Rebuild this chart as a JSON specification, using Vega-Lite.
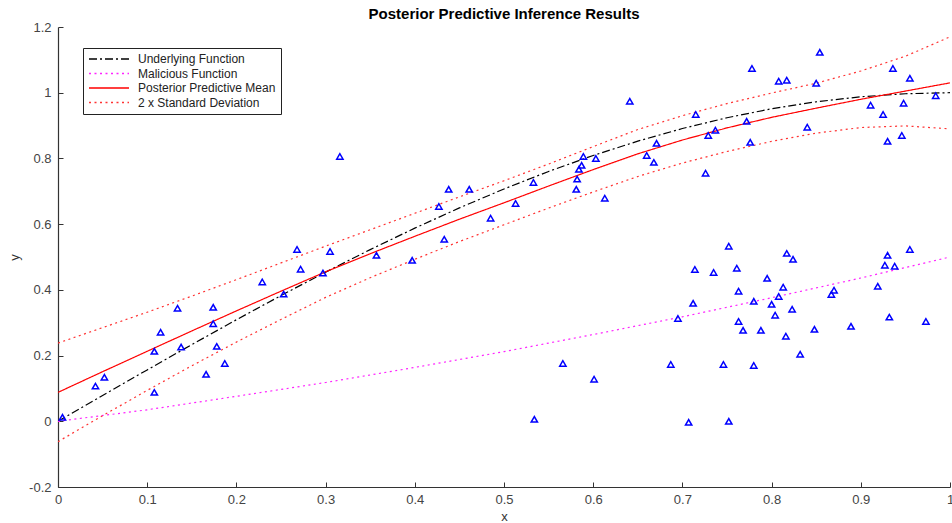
{
  "$schema": "https://vega.github.io/schema/vega-lite/v6.json",
  "width": 892,
  "height": 460,
  "autosize": {"type": "none"},
  "padding": {"left": 58, "top": 27, "right": 2, "bottom": 36},
  "background": "#ffffff",
  "title": {"text": "Posterior Predictive Inference Results", "fontSize": 15, "font": "Liberation Sans", "fontWeight": "bold", "color": "#000", "offset": -1},
  "config": {
    "view": {"stroke": null},
    "font": "Liberation Sans",
    "axis": {"grid": false, "domainColor": "#333", "tickColor": "#333", "labelColor": "#444", "labelFontSize": 13, "titleFontSize": 13, "titleFontWeight": "normal", "titleColor": "#333", "labelFont": "Liberation Sans", "titleFont": "Liberation Sans", "tickSize": -5, "domainWidth": 1.2, "tickWidth": 1}
  },
  "datasets": {
    "curves": [
      {"series": "Underlying Function", "part": "u", "x": 0.0, "y": 0.0},
      {"series": "Underlying Function", "part": "u", "x": 0.05, "y": 0.0785},
      {"series": "Underlying Function", "part": "u", "x": 0.1, "y": 0.1564},
      {"series": "Underlying Function", "part": "u", "x": 0.15, "y": 0.2334},
      {"series": "Underlying Function", "part": "u", "x": 0.2, "y": 0.309},
      {"series": "Underlying Function", "part": "u", "x": 0.25, "y": 0.3827},
      {"series": "Underlying Function", "part": "u", "x": 0.3, "y": 0.454},
      {"series": "Underlying Function", "part": "u", "x": 0.35, "y": 0.5225},
      {"series": "Underlying Function", "part": "u", "x": 0.4, "y": 0.5878},
      {"series": "Underlying Function", "part": "u", "x": 0.45, "y": 0.6494},
      {"series": "Underlying Function", "part": "u", "x": 0.5, "y": 0.7071},
      {"series": "Underlying Function", "part": "u", "x": 0.55, "y": 0.7604},
      {"series": "Underlying Function", "part": "u", "x": 0.6, "y": 0.809},
      {"series": "Underlying Function", "part": "u", "x": 0.65, "y": 0.8526},
      {"series": "Underlying Function", "part": "u", "x": 0.7, "y": 0.891},
      {"series": "Underlying Function", "part": "u", "x": 0.75, "y": 0.9239},
      {"series": "Underlying Function", "part": "u", "x": 0.8, "y": 0.9511},
      {"series": "Underlying Function", "part": "u", "x": 0.85, "y": 0.9724},
      {"series": "Underlying Function", "part": "u", "x": 0.9, "y": 0.9877},
      {"series": "Underlying Function", "part": "u", "x": 0.95, "y": 0.9969},
      {"series": "Underlying Function", "part": "u", "x": 1.0, "y": 1.0},
      {"series": "Malicious Function", "part": "m", "x": 0.0, "y": 0.0},
      {"series": "Malicious Function", "part": "m", "x": 0.1, "y": 0.035},
      {"series": "Malicious Function", "part": "m", "x": 0.2, "y": 0.076},
      {"series": "Malicious Function", "part": "m", "x": 0.3, "y": 0.118},
      {"series": "Malicious Function", "part": "m", "x": 0.4, "y": 0.164},
      {"series": "Malicious Function", "part": "m", "x": 0.5, "y": 0.212},
      {"series": "Malicious Function", "part": "m", "x": 0.6, "y": 0.264},
      {"series": "Malicious Function", "part": "m", "x": 0.7, "y": 0.318},
      {"series": "Malicious Function", "part": "m", "x": 0.8, "y": 0.376},
      {"series": "Malicious Function", "part": "m", "x": 0.9, "y": 0.436},
      {"series": "Malicious Function", "part": "m", "x": 1.0, "y": 0.5},
      {"series": "Posterior Predictive Mean", "part": "p", "x": 0.0, "y": 0.088},
      {"series": "Posterior Predictive Mean", "part": "p", "x": 0.05, "y": 0.151},
      {"series": "Posterior Predictive Mean", "part": "p", "x": 0.1, "y": 0.213},
      {"series": "Posterior Predictive Mean", "part": "p", "x": 0.15, "y": 0.275},
      {"series": "Posterior Predictive Mean", "part": "p", "x": 0.2, "y": 0.336},
      {"series": "Posterior Predictive Mean", "part": "p", "x": 0.25, "y": 0.396},
      {"series": "Posterior Predictive Mean", "part": "p", "x": 0.3, "y": 0.455},
      {"series": "Posterior Predictive Mean", "part": "p", "x": 0.35, "y": 0.51},
      {"series": "Posterior Predictive Mean", "part": "p", "x": 0.4, "y": 0.563},
      {"series": "Posterior Predictive Mean", "part": "p", "x": 0.45, "y": 0.615},
      {"series": "Posterior Predictive Mean", "part": "p", "x": 0.5, "y": 0.665},
      {"series": "Posterior Predictive Mean", "part": "p", "x": 0.55, "y": 0.716},
      {"series": "Posterior Predictive Mean", "part": "p", "x": 0.6, "y": 0.766},
      {"series": "Posterior Predictive Mean", "part": "p", "x": 0.65, "y": 0.814},
      {"series": "Posterior Predictive Mean", "part": "p", "x": 0.7, "y": 0.856},
      {"series": "Posterior Predictive Mean", "part": "p", "x": 0.75, "y": 0.893},
      {"series": "Posterior Predictive Mean", "part": "p", "x": 0.8, "y": 0.925},
      {"series": "Posterior Predictive Mean", "part": "p", "x": 0.85, "y": 0.953},
      {"series": "Posterior Predictive Mean", "part": "p", "x": 0.9, "y": 0.98},
      {"series": "Posterior Predictive Mean", "part": "p", "x": 0.95, "y": 1.005},
      {"series": "Posterior Predictive Mean", "part": "p", "x": 1.0, "y": 1.03},
      {"series": "2 x Standard Deviation", "part": "hi", "x": 0.0, "y": 0.238},
      {"series": "2 x Standard Deviation", "part": "hi", "x": 0.05, "y": 0.285},
      {"series": "2 x Standard Deviation", "part": "hi", "x": 0.1, "y": 0.332},
      {"series": "2 x Standard Deviation", "part": "hi", "x": 0.15, "y": 0.381},
      {"series": "2 x Standard Deviation", "part": "hi", "x": 0.2, "y": 0.431},
      {"series": "2 x Standard Deviation", "part": "hi", "x": 0.25, "y": 0.482},
      {"series": "2 x Standard Deviation", "part": "hi", "x": 0.3, "y": 0.533},
      {"series": "2 x Standard Deviation", "part": "hi", "x": 0.35, "y": 0.583},
      {"series": "2 x Standard Deviation", "part": "hi", "x": 0.4, "y": 0.633},
      {"series": "2 x Standard Deviation", "part": "hi", "x": 0.45, "y": 0.683},
      {"series": "2 x Standard Deviation", "part": "hi", "x": 0.5, "y": 0.732},
      {"series": "2 x Standard Deviation", "part": "hi", "x": 0.55, "y": 0.783},
      {"series": "2 x Standard Deviation", "part": "hi", "x": 0.6, "y": 0.836},
      {"series": "2 x Standard Deviation", "part": "hi", "x": 0.65, "y": 0.888},
      {"series": "2 x Standard Deviation", "part": "hi", "x": 0.7, "y": 0.93},
      {"series": "2 x Standard Deviation", "part": "hi", "x": 0.75, "y": 0.967},
      {"series": "2 x Standard Deviation", "part": "hi", "x": 0.8, "y": 0.999},
      {"series": "2 x Standard Deviation", "part": "hi", "x": 0.85, "y": 1.029},
      {"series": "2 x Standard Deviation", "part": "hi", "x": 0.9, "y": 1.066},
      {"series": "2 x Standard Deviation", "part": "hi", "x": 0.95, "y": 1.111},
      {"series": "2 x Standard Deviation", "part": "hi", "x": 1.0, "y": 1.17},
      {"series": "2 x Standard Deviation", "part": "lo", "x": 0.0, "y": -0.062},
      {"series": "2 x Standard Deviation", "part": "lo", "x": 0.05, "y": 0.017},
      {"series": "2 x Standard Deviation", "part": "lo", "x": 0.1, "y": 0.094},
      {"series": "2 x Standard Deviation", "part": "lo", "x": 0.15, "y": 0.169},
      {"series": "2 x Standard Deviation", "part": "lo", "x": 0.2, "y": 0.241},
      {"series": "2 x Standard Deviation", "part": "lo", "x": 0.25, "y": 0.31},
      {"series": "2 x Standard Deviation", "part": "lo", "x": 0.3, "y": 0.377},
      {"series": "2 x Standard Deviation", "part": "lo", "x": 0.35, "y": 0.437},
      {"series": "2 x Standard Deviation", "part": "lo", "x": 0.4, "y": 0.493},
      {"series": "2 x Standard Deviation", "part": "lo", "x": 0.45, "y": 0.547},
      {"series": "2 x Standard Deviation", "part": "lo", "x": 0.5, "y": 0.598},
      {"series": "2 x Standard Deviation", "part": "lo", "x": 0.55, "y": 0.649},
      {"series": "2 x Standard Deviation", "part": "lo", "x": 0.6, "y": 0.698},
      {"series": "2 x Standard Deviation", "part": "lo", "x": 0.65, "y": 0.745},
      {"series": "2 x Standard Deviation", "part": "lo", "x": 0.7, "y": 0.786},
      {"series": "2 x Standard Deviation", "part": "lo", "x": 0.75, "y": 0.821},
      {"series": "2 x Standard Deviation", "part": "lo", "x": 0.8, "y": 0.852},
      {"series": "2 x Standard Deviation", "part": "lo", "x": 0.85, "y": 0.877},
      {"series": "2 x Standard Deviation", "part": "lo", "x": 0.9, "y": 0.894},
      {"series": "2 x Standard Deviation", "part": "lo", "x": 0.95, "y": 0.899},
      {"series": "2 x Standard Deviation", "part": "lo", "x": 1.0, "y": 0.89}
    ],
    "points": [
      {"x": 0.005, "y": 0.012}, {"x": 0.042, "y": 0.107}, {"x": 0.052, "y": 0.134}, {"x": 0.108, "y": 0.088},
      {"x": 0.108, "y": 0.213}, {"x": 0.115, "y": 0.271}, {"x": 0.134, "y": 0.344}, {"x": 0.138, "y": 0.226},
      {"x": 0.166, "y": 0.143}, {"x": 0.174, "y": 0.347}, {"x": 0.174, "y": 0.297}, {"x": 0.178, "y": 0.228},
      {"x": 0.187, "y": 0.176}, {"x": 0.229, "y": 0.424}, {"x": 0.253, "y": 0.387}, {"x": 0.268, "y": 0.523},
      {"x": 0.272, "y": 0.463}, {"x": 0.297, "y": 0.451}, {"x": 0.305, "y": 0.517}, {"x": 0.316, "y": 0.806},
      {"x": 0.357, "y": 0.505}, {"x": 0.397, "y": 0.49}, {"x": 0.427, "y": 0.654}, {"x": 0.433, "y": 0.554},
      {"x": 0.438, "y": 0.706}, {"x": 0.461, "y": 0.706}, {"x": 0.485, "y": 0.618}, {"x": 0.513, "y": 0.663},
      {"x": 0.533, "y": 0.727}, {"x": 0.534, "y": 0.006}, {"x": 0.566, "y": 0.176}, {"x": 0.581, "y": 0.706},
      {"x": 0.582, "y": 0.737}, {"x": 0.584, "y": 0.767}, {"x": 0.587, "y": 0.779}, {"x": 0.589, "y": 0.806},
      {"x": 0.601, "y": 0.128}, {"x": 0.603, "y": 0.8}, {"x": 0.613, "y": 0.679}, {"x": 0.641, "y": 0.974},
      {"x": 0.66, "y": 0.809}, {"x": 0.668, "y": 0.788}, {"x": 0.671, "y": 0.846}, {"x": 0.687, "y": 0.173},
      {"x": 0.695, "y": 0.313}, {"x": 0.707, "y": -0.003}, {"x": 0.712, "y": 0.359}, {"x": 0.714, "y": 0.462},
      {"x": 0.715, "y": 0.934}, {"x": 0.726, "y": 0.755}, {"x": 0.729, "y": 0.87}, {"x": 0.735, "y": 0.453},
      {"x": 0.737, "y": 0.886}, {"x": 0.746, "y": 0.173}, {"x": 0.752, "y": 0.533}, {"x": 0.752, "y": 0.0},
      {"x": 0.761, "y": 0.466}, {"x": 0.763, "y": 0.396}, {"x": 0.763, "y": 0.304}, {"x": 0.768, "y": 0.277},
      {"x": 0.772, "y": 0.913}, {"x": 0.776, "y": 0.849}, {"x": 0.778, "y": 1.074}, {"x": 0.78, "y": 0.365},
      {"x": 0.78, "y": 0.17}, {"x": 0.788, "y": 0.277}, {"x": 0.795, "y": 0.435}, {"x": 0.8, "y": 0.356},
      {"x": 0.804, "y": 0.323}, {"x": 0.808, "y": 0.38}, {"x": 0.808, "y": 1.035}, {"x": 0.813, "y": 0.408},
      {"x": 0.816, "y": 0.259}, {"x": 0.817, "y": 0.511}, {"x": 0.817, "y": 1.038}, {"x": 0.823, "y": 0.341},
      {"x": 0.824, "y": 0.493}, {"x": 0.832, "y": 0.204}, {"x": 0.84, "y": 0.895}, {"x": 0.848, "y": 0.28},
      {"x": 0.85, "y": 1.029}, {"x": 0.854, "y": 1.123}, {"x": 0.867, "y": 0.386}, {"x": 0.87, "y": 0.399},
      {"x": 0.889, "y": 0.289}, {"x": 0.911, "y": 0.962}, {"x": 0.919, "y": 0.411}, {"x": 0.925, "y": 0.934},
      {"x": 0.927, "y": 0.475}, {"x": 0.93, "y": 0.852}, {"x": 0.93, "y": 0.505}, {"x": 0.932, "y": 0.317},
      {"x": 0.936, "y": 1.074}, {"x": 0.938, "y": 0.472}, {"x": 0.946, "y": 0.87}, {"x": 0.948, "y": 0.968},
      {"x": 0.955, "y": 1.044}, {"x": 0.955, "y": 0.523}, {"x": 0.973, "y": 0.304}, {"x": 0.984, "y": 0.991}
    ]
  },
  "layer": [
    {
      "data": {"name": "curves"},
      "mark": {"type": "line", "strokeWidth": 1.2, "clip": true},
      "encoding": {
        "x": {"field": "x", "type": "quantitative", "scale": {"domain": [0, 1], "nice": false, "zero": false},
              "axis": {"title": "x", "values": [0, 0.1, 0.2, 0.3, 0.4, 0.5, 0.6, 0.7, 0.8, 0.9, 1], "format": "~g", "labelPadding": 11, "titlePadding": 4, "labelFlush": false}},
        "y": {"field": "y", "type": "quantitative", "scale": {"domain": [-0.2, 1.2], "nice": false, "zero": false},
              "axis": {"title": "y", "values": [-0.2, 0, 0.2, 0.4, 0.6, 0.8, 1, 1.2], "format": "~g", "labelExpr": "replace(datum.label, '\u2212', '-')", "labelPadding": 12, "titlePadding": 7, "labelFlush": false}},
        "color": {"field": "series", "type": "nominal",
                  "scale": {"domain": ["Underlying Function", "Malicious Function", "Posterior Predictive Mean", "2 x Standard Deviation"], "range": ["#000000", "#ff22ff", "#ff0000", "#ff3333"]},
                  "legend": {"orient": "none", "legendX": 25, "legendY": 21, "title": null, "strokeColor": "#222", "fillColor": "#ffffff", "padding": 5,
                             "symbolType": "M-1,0H7", "symbolSize": 100, "symbolStrokeWidth": 1.4, "labelOffset": 38, "labelFontSize": 12, "labelColor": "#222", "labelFont": "Liberation Sans", "rowPadding": 2.5}},
        "strokeDash": {"field": "series", "type": "nominal",
                  "scale": {"domain": ["Underlying Function", "Malicious Function", "Posterior Predictive Mean", "2 x Standard Deviation"], "range": [[8, 3, 2, 3], [2, 3.5], [1, 0], [2, 3.5]]}},
        "detail": {"field": "part"}
      }
    },
    {
      "data": {"name": "points"},
      "mark": {"type": "point", "shape": "triangle-up", "filled": false, "color": "#0000ff", "size": 40, "strokeWidth": 1.5, "opacity": 1},
      "encoding": {
        "x": {"field": "x", "type": "quantitative"},
        "y": {"field": "y", "type": "quantitative"}
      }
    }
  ]
}
